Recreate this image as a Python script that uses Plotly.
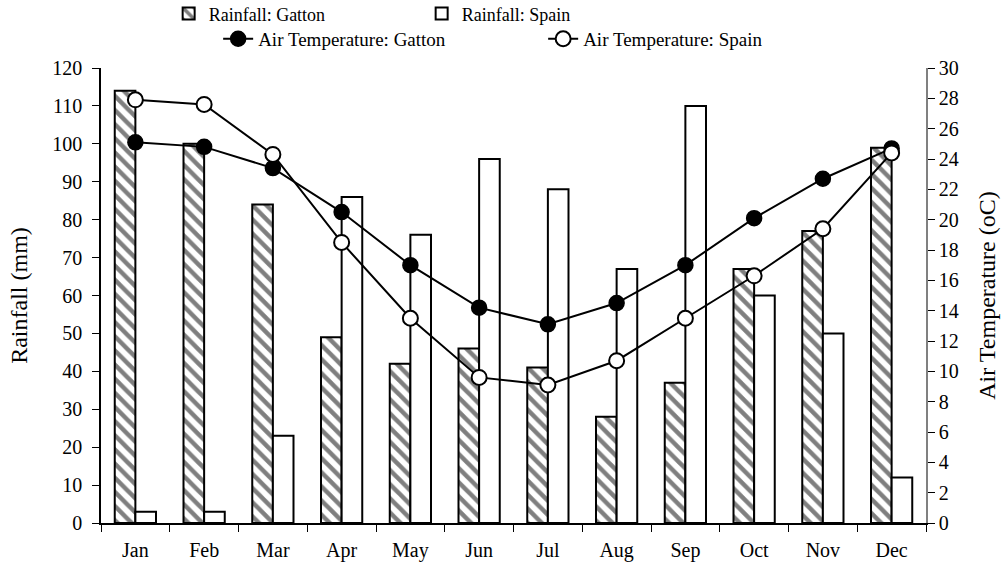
import plotly.graph_objects as go

months = ["Jan", "Feb", "Mar", "Apr", "May", "Jun", "Jul", "Aug", "Sep", "Oct", "Nov", "Dec"]
rain_gatton = [114, 100, 84, 49, 42, 46, 41, 28, 37, 67, 77, 99]
rain_spain = [3, 3, 23, 86, 76, 96, 88, 67, 110, 60, 50, 12]
temp_gatton = [25.1, 24.8, 23.4, 20.5, 17.0, 14.2, 13.1, 14.5, 17.0, 20.1, 22.7, 24.7]
temp_spain = [27.9, 27.6, 24.3, 18.5, 13.5, 9.6, 9.1, 10.7, 13.5, 16.3, 19.4, 24.4]

FONT = "Liberation Serif"

fig = go.Figure()
fig.add_trace(go.Bar(
    x=months, y=rain_gatton, name="Rainfall: Gatton", legend="legend",
    marker=dict(color="white", line=dict(color="black", width=2),
                pattern=dict(shape="\\", fgcolor="black", bgcolor="white", size=10, solidity=0.45)),
))
fig.add_trace(go.Bar(
    x=months, y=rain_spain, name="Rainfall: Spain", legend="legend",
    marker=dict(color="white", line=dict(color="black", width=2)),
))
fig.add_trace(go.Scatter(
    x=months, y=temp_gatton, name="Air Temperature: Gatton", yaxis="y2", legend="legend2",
    mode="lines+markers", line=dict(color="black", width=2),
    marker=dict(symbol="circle", size=15, color="black", line=dict(color="black", width=1.5)),
))
fig.add_trace(go.Scatter(
    x=months, y=temp_spain, name="Air Temperature: Spain", yaxis="y2", legend="legend2",
    mode="lines+markers", line=dict(color="black", width=2),
    marker=dict(symbol="circle", size=15, color="white", line=dict(color="black", width=2)),
))

fig.update_layout(
    width=1008, height=574,
    margin=dict(l=101, r=82, t=68, b=51, autoexpand=False),
    paper_bgcolor="white", plot_bgcolor="white",
    font=dict(family=FONT, size=20, color="black"),
    barmode="group", bargap=0.4, bargroupgap=0,
    showlegend=True,
    xaxis=dict(type="category", range=[-0.5, 11.5], tickson="boundaries", ticks="outside",
               ticklen=7, tickcolor="black", showline=True, linecolor="black", linewidth=1.5,
               showgrid=False, zeroline=False, tickfont=dict(size=20), ticklabelstandoff=8),
    xaxis2=dict(overlaying="x", anchor="y", range=[0, 12], dtick=1, ticks="inside",
                ticklen=7, tickcolor="black", showticklabels=False, showline=False,
                showgrid=False, zeroline=False),
    yaxis=dict(range=[0, 120], dtick=10, ticks="outside", ticklen=7, tickcolor="black",
               showline=True, linecolor="black", linewidth=1.5, showgrid=False,
               zeroline=False, ticklabelstandoff=6,
               title=dict(text="Rainfall (mm)", standoff=18)),
    yaxis2=dict(overlaying="y", side="right", range=[0, 30], dtick=2, ticks="outside",
                ticklen=7, tickcolor="black", showline=True, linecolor="#808080",
                linewidth=1.5, showgrid=False, zeroline=False,
                title=dict(text="Air Temperature (oC)", standoff=20)),
    yaxis3=dict(overlaying="y", side="left", range=[0, 120], dtick=10, ticks="inside",
                ticklen=7, tickcolor="black", showticklabels=False, showline=False,
                showgrid=False, zeroline=False),
    yaxis4=dict(overlaying="y", side="right", range=[0, 30], dtick=2, ticks="inside",
                ticklen=7, tickcolor="black", showticklabels=False, showline=False,
                showgrid=False, zeroline=False),
    legend=dict(orientation="h", x=0.082, xanchor="left", y=1.119, yanchor="middle",
                entrywidth=208, entrywidthmode="pixels", font=dict(size=18),
                bgcolor="rgba(0,0,0,0)", traceorder="normal"),
    legend2=dict(orientation="h", x=0.142, xanchor="left", y=1.064, yanchor="middle",
                 entrywidth=280, entrywidthmode="pixels", font=dict(size=19),
                 bgcolor="rgba(0,0,0,0)", traceorder="normal"),
)

fig.write_html("out.html", post_script="document.body.style.margin='0';",
               config={"displayModeBar": False})
